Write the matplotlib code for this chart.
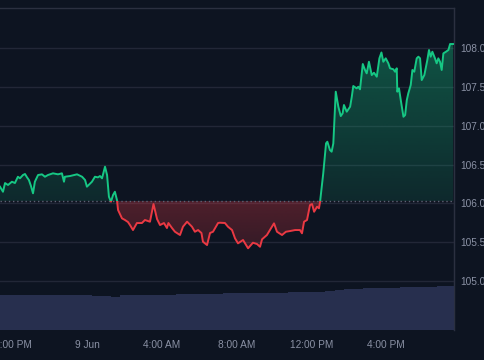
import numpy as np
import matplotlib
matplotlib.use("Agg")
import matplotlib.pyplot as plt
from matplotlib.colors import to_rgb
from matplotlib.patches import PathPatch, Rectangle
from matplotlib.path import Path

# price series, hours relative to 9 Jun 00:00
hours = [-4.69, -4.53, -4.42, -4.26, -4.05, -3.89, -3.73, -3.62, -3.46, -3.35,
         -3.24, -3.14, -3.03, -2.92, -2.82, -2.65, -2.44, -2.28, -2.12, -1.85,
         -1.58, -1.37, -1.26, -1.21, -0.94, -0.56, -0.29, -0.13, -0.03, 0.24,
         0.40, 0.56, 0.67, 0.78, 0.94, 1.05, 1.15, 1.26, 1.37, 1.47,
         1.58, 1.64, 1.74, 1.85, 2.01, 2.17, 2.28, 2.44, 2.65, 2.92,
         3.08, 3.35, 3.54, 3.73, 3.89, 4.10, 4.26, 4.34, 4.53, 4.69,
         4.96, 5.12, 5.34, 5.60, 5.76, 5.93, 6.11, 6.19, 6.41, 6.57,
         6.73, 7.00, 7.10, 7.37, 7.53, 7.75, 7.91, 8.07, 8.34, 8.61,
         8.87, 9.09, 9.25, 9.36, 9.62, 9.89, 10.00, 10.16, 10.43, 10.64,
         10.86, 11.13, 11.39, 11.50, 11.61, 11.77, 11.93, 12.04, 12.15, 12.31,
         12.41, 12.47, 12.56, 12.64, 12.79, 12.86, 13.00, 13.09, 13.18, 13.31,
         13.45, 13.58, 13.68, 13.75, 13.90, 14.08, 14.17, 14.25, 14.43, 14.52,
         14.61, 14.76, 14.88, 14.97, 15.09, 15.24, 15.36, 15.51, 15.65, 15.76,
         15.86, 15.99, 16.13, 16.22, 16.40, 16.49, 16.58, 16.61, 16.70, 16.81,
         16.94, 17.03, 17.12, 17.20, 17.33, 17.42, 17.52, 17.65, 17.74, 17.83,
         17.92, 18.06, 18.22, 18.31, 18.40, 18.49, 18.63, 18.72, 18.81, 18.90,
         18.99, 19.08, 19.22, 19.35, 19.44, 19.60]
price = [106.215, 106.150, 106.262, 106.237, 106.279, 106.262, 106.343, 106.323, 106.365, 106.378,
         106.335, 106.301, 106.224, 106.130, 106.279, 106.365, 106.374, 106.343, 106.365, 106.387,
         106.374, 106.387, 106.279, 106.343, 106.352, 106.374, 106.343, 106.301, 106.215, 106.279,
         106.343, 106.335, 106.352, 106.323, 106.472, 106.365, 106.086, 106.022, 106.108, 106.150,
         106.044, 105.915, 105.864, 105.808, 105.787, 105.761, 105.722, 105.658, 105.748, 105.748,
         105.787, 105.765, 105.992, 105.799, 105.722, 105.748, 105.684, 105.748, 105.684, 105.636,
         105.594, 105.701, 105.765, 105.701, 105.636, 105.658, 105.620, 105.508, 105.465, 105.620,
         105.636, 105.748, 105.752, 105.748, 105.701, 105.658, 105.551, 105.487, 105.530, 105.423,
         105.495, 105.478, 105.443, 105.539, 105.594, 105.701, 105.744, 105.636, 105.594, 105.636,
         105.645, 105.658, 105.658, 105.616, 105.765, 105.787, 105.979, 105.992, 105.893, 105.958,
         105.937, 106.022, 106.215, 106.387, 106.772, 106.793, 106.686, 106.665, 106.772, 107.436,
         107.243, 107.123, 107.158, 107.265, 107.179, 107.243, 107.371, 107.509, 107.479, 107.500,
         107.467, 107.792, 107.715, 107.672, 107.821, 107.650, 107.680, 107.629, 107.865, 107.940,
         107.821, 107.865, 107.801, 107.737, 107.724, 107.693, 107.737, 107.436, 107.479, 107.307,
         107.114, 107.136, 107.329, 107.415, 107.522, 107.715, 107.693, 107.865, 107.886, 107.865,
         107.586, 107.650, 107.843, 107.972, 107.886, 107.950, 107.865, 107.801, 107.865, 107.821,
         107.715, 107.929, 107.950, 107.972, 108.049, 108.049]
baseline = 106.03

# volume bars (half-hour buckets)
vol_hours = [-4.5, -4.0, -3.5, -3.0, -2.5, -2.0, -1.5, -1.0, -0.5, 0.0,
             0.5, 1.0, 1.5, 2.0, 2.5, 3.0, 3.5, 4.0, 4.5, 5.0,
             5.5, 6.0, 6.5, 7.0, 7.5, 8.0, 8.5, 9.0, 9.5, 10.0,
             10.5, 11.0, 11.5, 12.0, 12.5, 13.0, 13.5, 14.0, 14.5, 15.0,
             15.5, 16.0, 16.5, 17.0, 17.5, 18.0, 18.5, 19.0, 19.4]
volume = [1.09, 1.09, 1.08, 1.09, 1.08, 1.08, 1.08, 1.08, 1.09, 1.08,
          1.07, 1.06, 1.04, 1.08, 1.09, 1.09, 1.10, 1.10, 1.10, 1.11,
          1.11, 1.12, 1.12, 1.13, 1.14, 1.14, 1.15, 1.15, 1.15, 1.16,
          1.16, 1.17, 1.17, 1.18, 1.19, 1.21, 1.24, 1.26, 1.28, 1.30,
          1.31, 1.30, 1.31, 1.32, 1.32, 1.34, 1.35, 1.36, 1.37]

tick_hours = [-4, 0, 4, 8, 12, 16]
tick_labels = ["8:00 PM", "9 Jun", "4:00 AM", "8:00 AM", "12:00 PM", "4:00 PM"]
price_ticks = [105.0, 105.5, 106.0, 106.5, 107.0, 107.5, 108.0]

bg = "#0d1421"
green = "#16c784"
red = "#ea3943"
grid_col = "#222737"
border = "#2b3040"
text_col = "#8a91a4"

plt.rcParams['font.family'] = ['Liberation Sans', 'DejaVu Sans']

fig = plt.figure(figsize=(4.85, 3.6), dpi=100, facecolor=bg)
ax = fig.add_axes([0, 30 / 360, 454 / 485, 322 / 360])
ax.set_facecolor(bg)
xlim = (-4.69, 19.65)
ylim = (104.373, 108.512)

# area between line and baseline, used to clip the gradients
verts = [(hours[0], baseline)] + list(zip(hours, price)) + [(hours[-1], baseline)]
clip = PathPatch(Path(verts), transform=ax.transData, facecolor='none', edgecolor='none')
ax.add_patch(clip)


def gradient(color, ylo, yhi, a_lo, a_hi):
    rgba = np.zeros((64, 1, 4))
    rgba[:, 0, :3] = to_rgb(color)
    rgba[:, 0, 3] = np.linspace(a_lo, a_hi, 64)
    im = ax.imshow(rgba, extent=[xlim[0], xlim[1], ylo, yhi], origin='lower',
                   aspect='auto', zorder=1, interpolation='bilinear')
    im.set_clip_path(clip)


gradient(green, baseline, max(price), 0.12, 0.36)
gradient(red, min(price), baseline - 0.004, 0.18, 0.30)

above = Rectangle((xlim[0], baseline), xlim[1] - xlim[0], ylim[1] - baseline, transform=ax.transData)
below = Rectangle((xlim[0], ylim[0]), xlim[1] - xlim[0], baseline - ylim[0], transform=ax.transData)
for col, rect in [(green, above), (red, below)]:
    line, = ax.plot(hours, price, color=col, lw=1.4, zorder=3, solid_joinstyle='round')
    line.set_clip_path(rect)

ax.axhline(baseline, color="#5d6375", lw=1, ls=(0, (1, 2)), zorder=2)

ax.set_xlim(*xlim)
ax.set_ylim(*ylim)
ax.grid(axis='y', color=grid_col, lw=1)
ax.set_axisbelow(True)
for s in ['left', 'bottom']:
    ax.spines[s].set_visible(False)
for s in ['top', 'right']:
    ax.spines[s].set_color(border)
    ax.spines[s].set_linewidth(1)

# volume on its own scale at the bottom
ax2 = ax.twinx()
ax2.patch.set_visible(False)
ax2.bar(vol_hours, volume, width=0.5, color="#272f4e", linewidth=0)
ax2.set_ylim(0, 10)
ax2.set_xlim(*xlim)
ax2.set_yticks([])
for s in ['left', 'bottom', 'top']:
    ax2.spines[s].set_visible(False)
ax2.spines['right'].set_color(border)

# twinx moves the price ticks to the left, put them back on the right
ax.yaxis.tick_right()
ax.set_yticks(price_ticks)
ax.set_yticklabels([f"{t:.2f}" for t in price_ticks])
ax.set_xticks(tick_hours)
ax.set_xticklabels(tick_labels)
ax.tick_params(axis='y', length=0, pad=4.3, labelsize=7.3, colors=text_col)
ax.tick_params(axis='x', length=0, pad=7.5, labelsize=7.3, colors=text_col)

fig.savefig("out.png", dpi=100, facecolor=bg)
